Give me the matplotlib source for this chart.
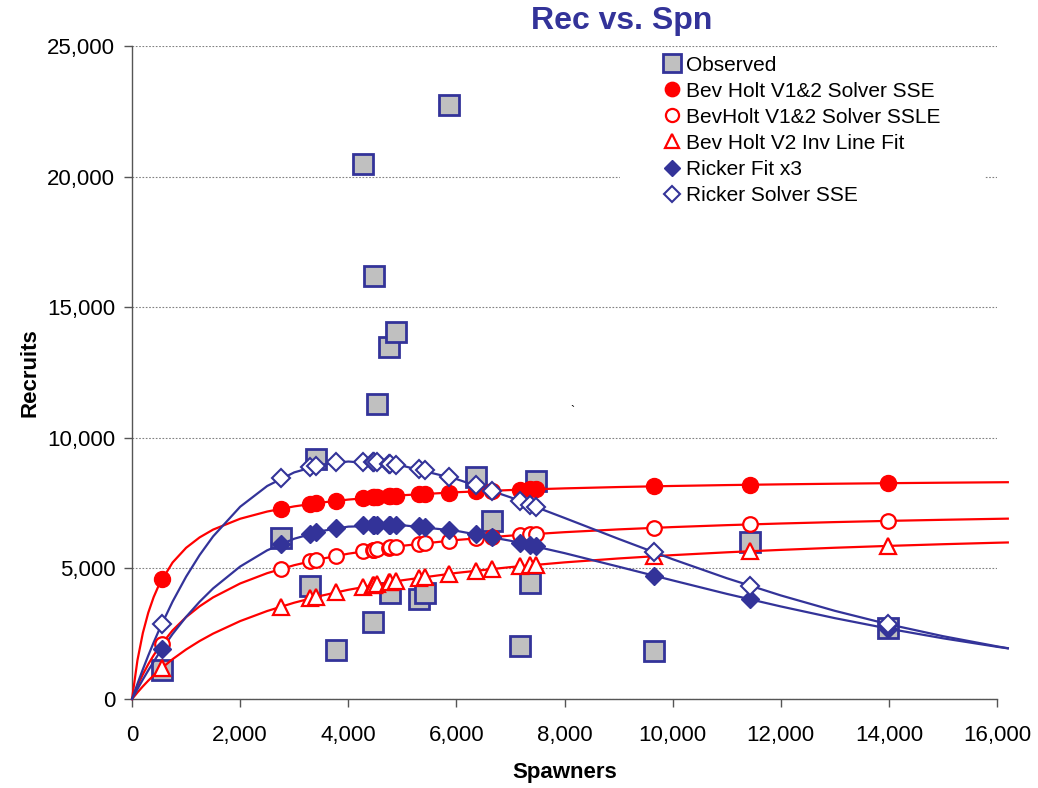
import matplotlib
matplotlib.use('Agg')
import matplotlib.pyplot as plt
from matplotlib.patches import Rectangle
from matplotlib.ticker import FuncFormatter, MultipleLocator

plt.rcParams['font.family'] = ['Liberation Sans', 'DejaVu Sans']

NAVY = '#333399'
RED = '#FF0000'

# spawner / recruit pairs by brood year
spawners = [550, 2750, 3290, 3410, 3770, 4270, 4450, 4480, 4530, 4750, 4770, 4890,
            5300, 5410, 5870, 6370, 6650, 7170, 7360, 7470, 9660, 11440, 13990]
observed = [1110, 6180, 4340, 9200, 1880, 20500, 2940, 16200, 11300, 13480, 4050, 14070,
            3820, 4050, 22760, 8490, 6800, 2040, 4430, 8330, 1850, 6030, 2710]

# predicted recruits at each spawner value
bh_sse = [4581, 7284, 7465, 7498, 7587, 7688, 7719, 7724, 7733, 7767, 7770, 7787,
          7841, 7854, 7904, 7951, 7974, 8013, 8026, 8033, 8144, 8203, 8264]
bh_ssle = [2126, 4981, 5271, 5327, 5478, 5657, 5713, 5722, 5737, 5801, 5806, 5838,
           5940, 5965, 6062, 6155, 6202, 6280, 6307, 6322, 6555, 6686, 6820]
bh_inv = [1189, 3537, 3849, 3910, 4082, 4291, 4359, 4370, 4388, 4465, 4472, 4512,
          4639, 4671, 4795, 4916, 4978, 5084, 5121, 5141, 5468, 5660, 5863]
rk_fit = [1905, 5936, 6324, 6387, 6535, 6648, 6666, 6668, 6669, 6669, 6669, 6664,
          6613, 6592, 6479, 6314, 6207, 5985, 5897, 5846, 4719, 3812, 2695]
rk_sse = [2871, 8447, 8873, 8934, 9057, 9093, 9076, 9070, 9061, 9011, 9006, 8971,
          8807, 8754, 8501, 8178, 7982, 7589, 7444, 7355, 5613, 4329, 2862]

# curves over a spawner grid
grid = [0, 100, 200, 300, 400, 500, 750, 1000, 1250, 1500, 2000, 2500, 3000, 3500,
        4000, 5000, 6000, 7000, 8000, 9000, 10000, 11000, 12000, 13000, 14000,
        15000, 16000, 16200]
c_bh_sse = [0, 1483, 2528, 3304, 3902, 4378, 5227, 5789, 6188, 6487, 6902, 7178, 7375,
            7522, 7636, 7802, 7917, 8001, 8065, 8116, 8157, 8191, 8219, 8243, 8264,
            8282, 8298, 8301]
c_bh_ssle = [0, 503, 943, 1331, 1676, 1984, 2628, 3137, 3550, 3892, 4424, 4819, 5124,
             5366, 5564, 5867, 6088, 6256, 6388, 6495, 6583, 6657, 6720, 6774, 6821,
             6862, 6899, 6906]
c_bh_inv = [0, 251, 485, 703, 907, 1098, 1526, 1897, 2221, 2505, 2984, 3370, 3688,
            3955, 4182, 4547, 4828, 5051, 5232, 5382, 5509, 5617, 5710, 5792, 5863,
            5927, 5984, 5994]
c_rk_fit = [0, 382, 747, 1097, 1431, 1751, 2489, 3145, 3725, 4236, 5073, 5694, 6137,
            6430, 6600, 6654, 6440, 6059, 5586, 5067, 4542, 4027, 3545, 3097, 2691,
            2325, 2000, 1940]
c_rk_sse = [0, 582, 1136, 1663, 2165, 2642, 3731, 4683, 5512, 6228, 7361, 8156, 8677,
            8974, 9093, 8931, 8422, 7722, 6933, 6131, 5353, 4627, 3967, 3377, 2858,
            2407, 2017, 1946]

fig = plt.figure(figsize=(10.38, 7.88), dpi=100)
ax = fig.add_axes([0.1272, 0.1129, 0.8333, 0.8287])

ax.plot(spawners, observed, 's', ms=14, mfc='#C0C0C0', mec=NAVY, mew=2,
        ls='none', label='Observed', zorder=2)

# fitted curves
for yv, col in [(c_bh_sse, RED), (c_bh_ssle, RED), (c_bh_inv, RED),
                (c_rk_fit, NAVY), (c_rk_sse, NAVY)]:
    ax.plot(grid, yv, '-', color=col, lw=1.6, zorder=3, clip_on=False)

ax.plot(spawners, bh_sse, 'o', ms=11.5, mfc=RED, mec=RED, ls='none',
        label='Bev Holt V1&2 Solver SSE', zorder=4)
ax.plot(spawners, bh_ssle, 'o', ms=10.5, mfc='white', mec=RED, mew=1.6, ls='none',
        label='BevHolt V1&2 Solver SSLE', zorder=4)
ax.plot(spawners, bh_inv, '^', ms=11, mfc='white', mec=RED, mew=1.6, ls='none',
        label='Bev Holt V2 Inv Line Fit', zorder=4)
ax.plot(spawners, rk_fit, 'D', ms=9, mfc=NAVY, mec=NAVY, ls='none',
        label='Ricker Fit x3', zorder=4)
ax.plot(spawners, rk_sse, 'D', ms=9, mfc='white', mec=NAVY, mew=1.5, ls='none',
        label='Ricker Solver SSE', zorder=4)

ax.set_xlim(0, 16000)
ax.set_ylim(0, 25000)
ax.xaxis.set_major_locator(MultipleLocator(2000))
ax.yaxis.set_major_locator(MultipleLocator(5000))
fmt = FuncFormatter(lambda v, p: '{:,.0f}'.format(v))
ax.xaxis.set_major_formatter(fmt)
ax.yaxis.set_major_formatter(fmt)
ax.tick_params(labelsize=16, direction='out', length=6, width=1, color='#555555', pad=6)
ax.tick_params(axis='x', pad=13)
ax.grid(axis='y', ls=(0, (1.5, 1.5)), color='#808080', lw=0.8)
ax.set_axisbelow(True)
for s in ['top', 'right']:
    ax.spines[s].set_visible(False)
for s in ['left', 'bottom']:
    ax.spines[s].set_color('#555555')
    ax.spines[s].set_linewidth(1)

ax.set_xlabel('Spawners', fontsize=16, fontweight='bold', labelpad=11)
ax.set_ylabel('Recruits', fontsize=16, fontweight='bold', labelpad=5)
fig.text(0.599, 0.973, 'Rec vs. Spn', ha='center', va='center', fontsize=23,
         fontweight='bold', color=NAVY)
ax.text(8150, 11000, '`', fontsize=9, ha='center', va='center')

# white backing behind the legend block
ax.add_patch(Rectangle((0.5638, 0.741), 0.422, 0.253, transform=ax.transAxes,
                       facecolor='white', edgecolor='none', zorder=1))
leg = ax.legend(loc='upper left', bbox_to_anchor=(0.609, 0.995), frameon=False,
                fontsize=15, markerscale=0.9, handlelength=0.7, handletextpad=0.3,
                labelspacing=0.34, borderpad=0.3, borderaxespad=0)
leg.set_zorder(6)

fig.savefig('out.png', dpi=100)
